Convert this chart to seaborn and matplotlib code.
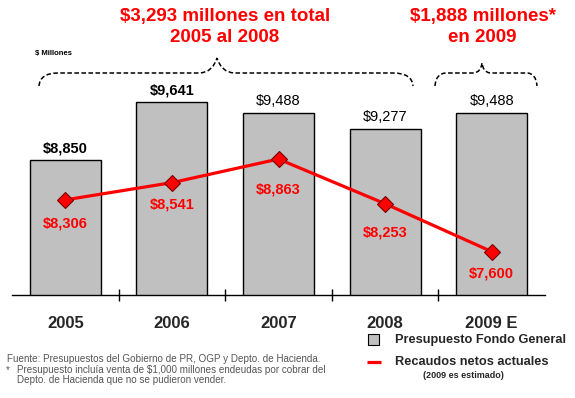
import matplotlib
matplotlib.use("Agg")
import matplotlib.pyplot as plt
from matplotlib.path import Path
from matplotlib.patches import PathPatch
import seaborn as sns
import pandas as pd
import numpy as np

# ---- data ----
years = ["2005", "2006", "2007", "2008", "2009 E"]
presupuesto = [8850, 9641, 9488, 9277, 9488]
recaudos = [8306, 8541, 8863, 8253, 7600]
bar_labels = ["$8,850", "$9,641", "$9,488", "$9,277", "$9,488"]
line_labels = ["$8,306", "$8,541", "$8,863", "$8,253", "$7,600"]

sns.set_style("white")
plt.rcParams["font.family"] = ["Liberation Sans", "DejaVu Sans"]
plt.rcParams["text.parse_math"] = False

RED = "#FF0000"
GRAY = "#C0C0C0"

fig = plt.figure(figsize=(5.75, 3.98), dpi=100)
W, H = 575, 398
ax = fig.add_axes([12 / W, (H - 295) / H, 533 / W, 295 / H])

df = pd.DataFrame({"year": years, "presupuesto": presupuesto, "recaudos": recaudos})
sns.barplot(data=df, x="year", y="presupuesto", color=GRAY, saturation=1,
            width=0.667, edgecolor="black", linewidth=1, ax=ax, zorder=1)
sns.lineplot(x=np.arange(len(years)), y=recaudos, color=RED, lw=2.3,
             marker="D", markersize=8.5, markerfacecolor=RED,
             markeredgecolor="#7a0000", markeredgewidth=0.8, ax=ax, zorder=3)

ax.set_xlim(-0.5, 4.5)
ax.set_ylim(7008, 11033)
ax.set_xlabel("")
ax.set_ylabel("")
ax.set_yticks([])
for s in ["top", "left", "right"]:
    ax.spines[s].set_visible(False)
ax.spines["bottom"].set_color("black")
ax.spines["bottom"].set_linewidth(1)
ax.patch.set_visible(False)

ax.set_xticks(range(len(years)))
ax.set_xticklabels(years, fontsize=12, fontweight="bold")
ax.tick_params(axis="x", which="major", length=0, pad=15)
ax.set_xticks(np.arange(0.5, len(years) - 0.5, 1), minor=True)
ax.tick_params(axis="x", which="minor", bottom=True, direction="inout",
               length=8, width=1, color="black")

# bar value labels
weights = ["bold", "bold", "normal", "normal", "normal"]
for i, (v, lab) in enumerate(zip(presupuesto, bar_labels)):
    ax.annotate(lab, (i, v), xytext=(0, 8.5), textcoords="offset points",
                ha="center", va="center", fontsize=10.5,
                fontweight=weights[i], color="black")

# line value labels (offsets in points below the markers)
offs = [17, 16, 22, 20.5, 16]
for i, (v, lab) in enumerate(zip(recaudos, line_labels)):
    ax.annotate(lab, (i, v), xytext=(0, -offs[i]), textcoords="offset points",
                ha="center", va="center", fontsize=10.5, fontweight="bold",
                color=RED)

# ---- overlay in pixel coordinates ----
ov = fig.add_axes([0, 0, 1, 1], zorder=5)
ov.set_xlim(0, W)
ov.set_ylim(H, 0)
ov.axis("off")
ov.patch.set_visible(False)

ov.text(225, 17, "$3,293 millones en total", ha="center", va="center",
        fontsize=13.5, fontweight="bold", color=RED)
ov.text(225, 38, "2005 al 2008", ha="center", va="center",
        fontsize=13.5, fontweight="bold", color=RED)
ov.text(483, 17, "$1,888 millones*", ha="center", va="center",
        fontsize=13.5, fontweight="bold", color=RED)
ov.text(482, 38, "en 2009", ha="center", va="center",
        fontsize=13.5, fontweight="bold", color=RED)
ov.text(35, 54, "$ Millones", ha="left", va="center", fontsize=5.5,
        fontweight="bold", color="black")

M, C, L = Path.MOVETO, Path.CURVE3, Path.LINETO
brace1 = Path([(39, 86), (40, 73), (58, 73), (200, 73), (213, 72), (217, 58),
               (221, 72), (234, 73), (393, 73), (412, 73), (413, 86)],
              [M, C, C, L, C, C, C, C, L, C, C])
brace2 = Path([(435, 86), (436, 73), (446, 73), (474, 73), (481, 72), (482, 63),
               (483, 72), (490, 73), (527, 73), (536, 73), (537, 86)],
              [M, C, C, L, C, C, C, C, L, C, C])
for p in (brace1, brace2):
    ov.add_patch(PathPatch(p, facecolor="none", edgecolor="black", lw=1.1,
                           linestyle=(0, (3, 1.6))))

# legend
ov.add_patch(plt.Rectangle((368, 334), 11, 11, facecolor=GRAY,
                           edgecolor="black", lw=0.8))
ov.text(395, 340, "Presupuesto Fondo General", ha="left", va="center",
        fontsize=9.2, fontweight="bold")
ov.plot([367, 381], [362, 362], color=RED, lw=2.3, solid_capstyle="butt")
ov.text(395, 362, "Recaudos netos actuales", ha="left", va="center",
        fontsize=9.2, fontweight="bold")
ov.text(463, 376, "(2009 es estimado)", ha="center", va="center",
        fontsize=6.5, fontweight="bold")

# footnotes
fc = "#555555"
ov.text(7, 359, "Fuente: Presupuestos del Gobierno de PR, OGP y Depto. de Hacienda.",
        ha="left", va="center", fontsize=7.1, color=fc)
ov.text(6, 370, "*", ha="left", va="center", fontsize=7.1, color=fc)
ov.text(17, 370, "Presupuesto incluía venta de $1,000 millones endeudas por cobrar del",
        ha="left", va="center", fontsize=7.1, color=fc)
ov.text(17, 380, "Depto. de Hacienda que no se pudieron vender.",
        ha="left", va="center", fontsize=7.1, color=fc)

fig.savefig("out.png", dpi=100)
